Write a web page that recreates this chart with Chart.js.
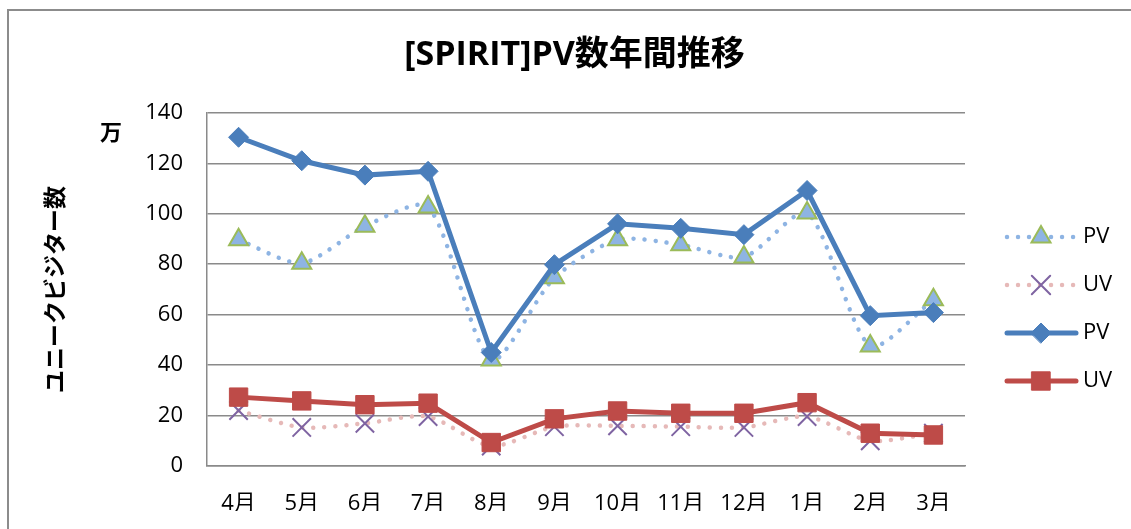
<!DOCTYPE html>
<html>
<head>
<meta charset="utf-8">
<script src="https://cdn.jsdelivr.net/npm/chart.js@4/dist/chart.umd.min.js"></script>
<style>
  html, body { margin: 0; padding: 0; background: #fff; overflow: hidden; }
  #wrap { position: relative; width: 1131px; height: 529px; }
  #frame { position: absolute; left: 7px; top: 9px; width: 1200px; height: 600px;
           border-top: 2px solid #8c8c8c; border-left: 2px solid #8c8c8c; }
  #c { position: absolute; left: 0; top: 0; }
</style>
</head>
<body>
<div id="wrap">
  <div id="frame"></div>
  <canvas id="c" width="1131" height="529"></canvas>
</div>
<script>
// month labels (fiscal year, Apr -> Mar)
var months = ['4月', '5月', '6月', '7月', '8月', '9月', '10月', '11月', '12月', '1月', '2月', '3月'];
// dotted series (triangle / cross markers)
var pvDot = [89.7, 80.4, 95, 102.7, 42, 74.6, 89.7, 87.7, 82.8, 100.3, 47.6, 65.9];
var uvDot = [22, 15.3, 16.9, 19.6, 7.9, 15.6, 15.9, 15.6, 15.3, 19.6, 10, 13];
// solid series (diamond / square markers)
var pvLine = [130.3, 121, 115.3, 116.8, 45, 79.8, 96, 94.2, 91.7, 109.2, 59.6, 60.8];
var uvLine = [27.3, 25.8, 24.3, 24.9, 9.3, 18.7, 21.8, 20.9, 20.9, 25.1, 13, 12.3];
var yMin = 0, yMax = 140, yStep = 20;

var FONT = "'Open Sans', 'Noto Sans CJK JP', sans-serif";
var GRID = '#8a8a8a';

// legend drawn as line sample + marker, like the office-style legend
var sideLegend = {
  id: 'sideLegend',
  afterDraw: function(chart) {
    var ctx = chart.ctx;
    chart.data.datasets.forEach(function(ds, i) {
      var y = 237 + i * 48;
      ctx.save();
      ctx.strokeStyle = ds.borderColor;
      ctx.lineWidth = ds.borderWidth;
      ctx.lineCap = 'round';
      ctx.setLineDash(ds.borderDash || []);
      ctx.beginPath();
      ctx.moveTo(1007, y);
      ctx.lineTo(1076, y);
      ctx.stroke();
      ctx.setLineDash([]);
      ctx.fillStyle = ds.pointBackgroundColor;
      ctx.strokeStyle = ds.pointBorderColor;
      ctx.lineWidth = ds.pointBorderWidth;
      Chart.helpers.drawPoint(ctx, {
        pointStyle: ds.pointStyle, radius: ds.pointRadius,
        borderWidth: ds.pointBorderWidth, rotation: 0
      }, 1041, y);
      ctx.fillStyle = '#000';
      ctx.font = '22px ' + FONT;
      ctx.textBaseline = 'middle';
      ctx.textAlign = 'left';
      ctx.fillText(ds.label, 1083, y);
      ctx.restore();
    });
    // unit label next to the axis
    ctx.save();
    ctx.fillStyle = '#000';
    ctx.font = 'bold 22px ' + FONT;
    ctx.textAlign = 'center';
    ctx.textBaseline = 'middle';
    ctx.fillText('万', 111, 134);
    ctx.restore();
  }
};

var chart = new Chart(document.getElementById('c').getContext('2d'), {
  type: 'line',
  data: {
    labels: months,
    datasets: [{
      label: 'PV',
      data: pvDot,
      borderColor: '#8eb4e3',
      borderWidth: 4.5,
      borderDash: [0.01, 11],
      borderCapStyle: 'round',
      tension: 0.25,
      pointStyle: 'triangle',
      pointRadius: 11,
      pointBackgroundColor: '#8eb4e3',
      pointBorderColor: '#9bbb59',
      pointBorderWidth: 2,
      order: 3
    }, {
      label: 'UV',
      data: uvDot,
      borderColor: '#e6b9b8',
      borderWidth: 4.5,
      borderDash: [0.01, 11],
      borderCapStyle: 'round',
      tension: 0.25,
      pointStyle: 'crossRot',
      pointRadius: 13,
      pointBackgroundColor: '#7f64a2',
      pointBorderColor: '#7f64a2',
      pointBorderWidth: 2,
      order: 4
    }, {
      label: 'PV',
      data: pvLine,
      borderColor: '#4a7ebb',
      borderWidth: 5,
      tension: 0,
      pointStyle: 'rectRot',
      pointRadius: 10,
      pointBackgroundColor: '#4a7ebb',
      pointBorderColor: '#4a7ebb',
      pointBorderWidth: 1,
      order: 1
    }, {
      label: 'UV',
      data: uvLine,
      borderColor: '#be4b48',
      borderWidth: 5,
      tension: 0,
      pointStyle: 'rect',
      pointRadius: 13,
      pointBackgroundColor: '#be4b48',
      pointBorderColor: '#be4b48',
      pointBorderWidth: 1,
      order: 2
    }]
  },
  options: {
    responsive: false,
    animation: false,
    layout: { padding: { left: 18, right: 0, top: 0, bottom: 18 } },
    plugins: {
      legend: { display: false },
      tooltip: { enabled: false },
      title: {
        display: true,
        text: '[SPIRIT]PV数年間推移',
        color: '#000',
        font: { family: FONT, size: 34, weight: 'bold' },
        padding: { top: 35, bottom: 37 }
      }
    },
    scales: {
      x: {
        offset: true,
        grid: { display: false, offset: true },
        border: { display: true, color: GRID, width: 1.5 },
        ticks: { color: '#000', font: { family: FONT, size: 22 }, padding: 17, maxRotation: 0, autoSkip: false },
        afterFit: function(s) { s.height = 45; }
      },
      y: {
        min: yMin,
        max: yMax,
        ticks: { stepSize: yStep, color: '#000', font: { family: FONT, size: 22 }, padding: 24 },
        grid: { color: GRID, lineWidth: 1.5, drawTicks: false },
        border: { display: true, color: GRID, width: 1.5 },
        title: {
          display: true,
          text: 'ユニークビジター数',
          color: '#000',
          font: { family: FONT, size: 23, weight: 'bold' },
          padding: { top: 25, bottom: 0 }
        },
        afterFit: function(s) { s.width = 189; }
      },
      // empty right-hand axis that reserves the room used by the legend
      side: {
        type: 'linear',
        position: 'right',
        display: true,
        grid: { display: false },
        border: { display: false },
        ticks: { display: false },
        afterFit: function(s) { s.width = 166; }
      }
    }
  },
  plugins: [sideLegend]
});
</script>
</body>
</html>
